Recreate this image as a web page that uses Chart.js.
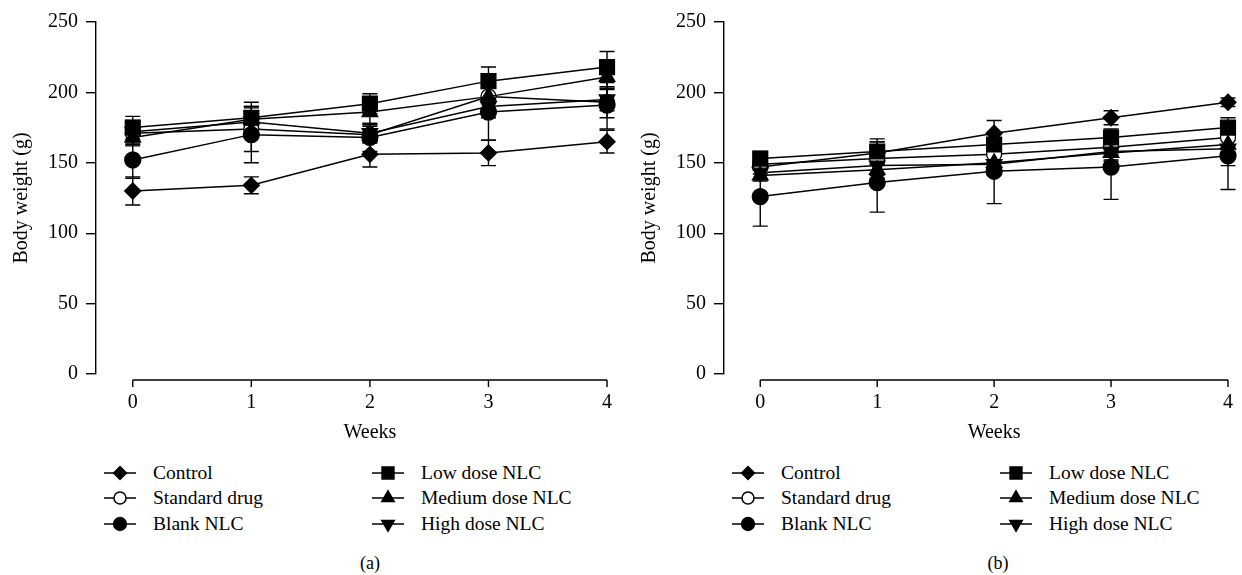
<!DOCTYPE html>
<html>
<head>
<meta charset="utf-8">
<script src="https://cdn.jsdelivr.net/npm/chart.js@4.4.0/dist/chart.umd.min.js"></script>
<style>
  body { margin: 0; background: #fff; width: 1242px; height: 575px; overflow: hidden; position: relative; font-family: "Liberation Serif", serif; color: #000; }
  canvas { position: absolute; top: 0; }
  .leg { position: absolute; height: 24px; line-height: 24px; font-size: 19.5px; white-space: nowrap; }
  .leg canvas { position: absolute; left: 0; top: 0; }
  .leg span { position: absolute; left: 50px; top: 0; }
  .cap { position: absolute; font-size: 18px; transform: translate(-50%, -50%); }
</style>
</head>
<body>
<canvas id="chartA" width="624" height="450" style="left:0"></canvas>
<canvas id="chartB" width="614" height="450" style="left:628px"></canvas>
<div id="legendA"></div>
<div id="legendB"></div>
<div class="cap" style="left:370px; top:563px">(a)</div>
<div class="cap" style="left:998px; top:563px">(b)</div>
<script>
// weeks on the x axis
var weeks = [0, 1, 2, 3, 4];
var yTicks = [0, 50, 100, 150, 200, 250];
var groupNames = ["Control", "Standard drug", "Blank NLC", "Low dose NLC", "Medium dose NLC", "High dose NLC"];

// panel (a): mean body weight (g) and SD
var aControl = [130, 134, 156, 157, 165];
var aControlSd = [10, 6, 9, 9, 8];
var aStandard = [171, 174, 170, 197, 193];
var aStandardSd = [8, 16, 6, 12, 11];
var aBlank = [152, 170, 168, 186, 191];
var aBlankSd = [13, 20, 10, 20, 17];
var aLow = [175, 182, 192, 208, 218];
var aLowSd = [8, 11, 7, 10, 11];
var aMedium = [168, 181, 186, 197, 211];
var aMediumSd = [6, 8, 8, 8, 9];
var aHigh = [172, 179, 171, 190, 195];
var aHighSd = [8, 8, 6, 8, 8];

// panel (b)
var bControl = [147, 157, 171, 182, 193];
var bControlSd = [5, 8, 9, 5, 3];
var bStandard = [149, 153, 156, 161, 168];
var bStandardSd = [4, 12, 6, 5, 6];
var bBlank = [126, 136, 144, 147, 155];
var bBlankSd = [21, 21, 23, 23, 24];
var bLow = [153, 158, 163, 168, 175];
var bLowSd = [5, 9, 7, 6, 7];
var bMedium = [141, 145, 150, 157, 163];
var bMediumSd = [4, 6, 6, 6, 5];
var bHigh = [143, 148, 149, 158, 160];
var bHighSd = [5, 6, 6, 6, 12];

Chart.defaults.font.family = "Liberation Serif";
Chart.defaults.font.size = 20;
Chart.defaults.color = "#000";

var markers = [
  { pointStyle: "rectRot", radius: 8, rotation: 0, fill: "#000" },
  { pointStyle: "circle", radius: 7.5, rotation: 0, fill: "#fff" },
  { pointStyle: "circle", radius: 8, rotation: 0, fill: "#000" },
  { pointStyle: "rect", radius: 10.5, rotation: 0, fill: "#000" },
  { pointStyle: "triangle", radius: 9, rotation: 0, fill: "#000" },
  { pointStyle: "triangle", radius: 9, rotation: 180, fill: "#000" }
];

function toPoints(vals) {
  return vals.map(function(v, i) { return { x: weeks[i], y: v }; });
}

function makeDatasets(series, errors) {
  var list = [];
  for (let i = 0; i < series.length; i++) {
    var m = markers[i];
    list.push({
      label: groupNames[i],
      data: toPoints(series[i]),
      errors: errors[i],
      borderColor: "#000",
      borderWidth: 1.5,
      pointStyle: m.pointStyle,
      pointRadius: m.radius,
      pointRotation: m.rotation,
      pointBackgroundColor: m.fill,
      pointBorderColor: "#000",
      pointBorderWidth: 1.3,
      clip: false,
      order: series.length - i
    });
  }
  return list;
}

// SD bars drawn through the chart scales
var errorBars = {
  id: "errorBars",
  beforeDatasetsDraw: function(chart) {
    var ctx = chart.ctx, xs = chart.scales.x, ys = chart.scales.y;
    ctx.save();
    ctx.strokeStyle = "#000";
    ctx.lineWidth = 1.4;
    chart.data.datasets.forEach(function(ds) {
      ds.data.forEach(function(p, i) {
        var sd = ds.errors[i];
        var px = xs.getPixelForValue(p.x);
        var top = ys.getPixelForValue(p.y + sd);
        var bot = ys.getPixelForValue(p.y - sd);
        ctx.beginPath();
        ctx.moveTo(px, top); ctx.lineTo(px, bot);
        ctx.moveTo(px - 7.5, top); ctx.lineTo(px + 7.5, top);
        ctx.moveTo(px - 7.5, bot); ctx.lineTo(px + 7.5, bot);
        ctx.stroke();
      });
    });
    ctx.restore();
  }
};

// offset x axis line from first to last week, with its title centred under it
var offsetAxis = {
  id: "offsetAxis",
  afterDraw: function(chart) {
    var ctx = chart.ctx, xs = chart.scales.x;
    var y0 = chart.chartArea.bottom + 6;
    var x0 = xs.getPixelForValue(weeks[0]);
    var x1 = xs.getPixelForValue(weeks[weeks.length - 1]);
    ctx.save();
    ctx.strokeStyle = "#000";
    ctx.lineWidth = 1.4;
    ctx.beginPath();
    ctx.moveTo(x0, y0);
    ctx.lineTo(x1, y0);
    weeks.forEach(function(w) {
      var px = xs.getPixelForValue(w);
      ctx.moveTo(px, y0); ctx.lineTo(px, y0 + 7);
    });
    ctx.stroke();
    ctx.fillStyle = "#000";
    ctx.font = "20px 'Liberation Serif'";
    ctx.textAlign = "center";
    ctx.textBaseline = "middle";
    ctx.fillText("Weeks", (x0 + x1) / 2, chart.chartArea.bottom + 59);
    ctx.restore();
  }
};

function makeChart(id, datasets, xMax) {
  return new Chart(document.getElementById(id).getContext("2d"), {
    type: "line",
    data: { datasets: datasets },
    plugins: [errorBars, offsetAxis],
    options: {
      responsive: false,
      animation: false,
      layout: { autoPadding: false, padding: { top: 22, right: 0, bottom: 0, left: 0 } },
      plugins: { legend: { display: false }, tooltip: { enabled: false } },
      scales: {
        x: {
          type: "linear",
          min: -0.31,
          max: xMax,
          afterBuildTicks: function(scale) { scale.ticks = weeks.map(function(w) { return { value: w }; }); },
          afterFit: function(scale) { scale.height = 76; },
          grid: { display: true, drawOnChartArea: false, drawTicks: true, tickLength: 8, color: "rgba(0,0,0,0)" },
          border: { display: false },
          ticks: { padding: 9, maxRotation: 0 },
          title: { display: false }
        },
        y: {
          min: 0,
          max: 250,
          afterBuildTicks: function(scale) { scale.ticks = yTicks.map(function(v) { return { value: v }; }); },
          afterFit: function(scale) { scale.width = 96; },
          grid: { display: true, drawOnChartArea: false, drawTicks: true, tickLength: 10, color: "#000", lineWidth: 1.4 },
          border: { display: true, color: "#000", width: 1.4 },
          ticks: { padding: 8 },
          title: { display: true, text: "Body weight (g)", padding: { top: 10 } }
        }
      }
    }
  });
}

makeChart("chartA",
  makeDatasets([aControl, aStandard, aBlank, aLow, aMedium, aHigh],
               [aControlSd, aStandardSd, aBlankSd, aLowSd, aMediumSd, aHighSd]), 4.143);
makeChart("chartB",
  makeDatasets([bControl, bStandard, bBlank, bLow, bMedium, bHigh],
               [bControlSd, bStandardSd, bBlankSd, bLowSd, bMediumSd, bHighSd]), 4.059);

// legends: two columns of three
function drawIcon(cv, m) {
  var ctx = cv.getContext("2d");
  ctx.strokeStyle = "#000";
  ctx.lineWidth = 1.5;
  ctx.beginPath(); ctx.moveTo(1, 12); ctx.lineTo(33, 12); ctx.stroke();
  ctx.fillStyle = m.fill;
  var opts = { pointStyle: m.pointStyle, radius: m.radius * 0.8, rotation: m.rotation, borderWidth: 1.3 };
  if (Chart.helpers && Chart.helpers.drawPoint) {
    Chart.helpers.drawPoint(ctx, opts, 17, 12);
  }
}

function buildLegend(id, left, colGap) {
  var box = document.getElementById(id);
  var rowsY = [473, 498, 524];
  for (let i = 0; i < groupNames.length; i++) {
    var col = Math.floor(i / 3), row = i % 3;
    var item = document.createElement("div");
    item.className = "leg";
    item.style.left = (left + col * colGap) + "px";
    item.style.top = (rowsY[row] - 12) + "px";
    var cv = document.createElement("canvas");
    cv.width = 36; cv.height = 24;
    item.appendChild(cv);
    var sp = document.createElement("span");
    sp.textContent = groupNames[i];
    item.appendChild(sp);
    box.appendChild(item);
    drawIcon(cv, markers[i]);
  }
}
buildLegend("legendA", 103, 268);
buildLegend("legendB", 731, 268);
</script>
</body>
</html>
